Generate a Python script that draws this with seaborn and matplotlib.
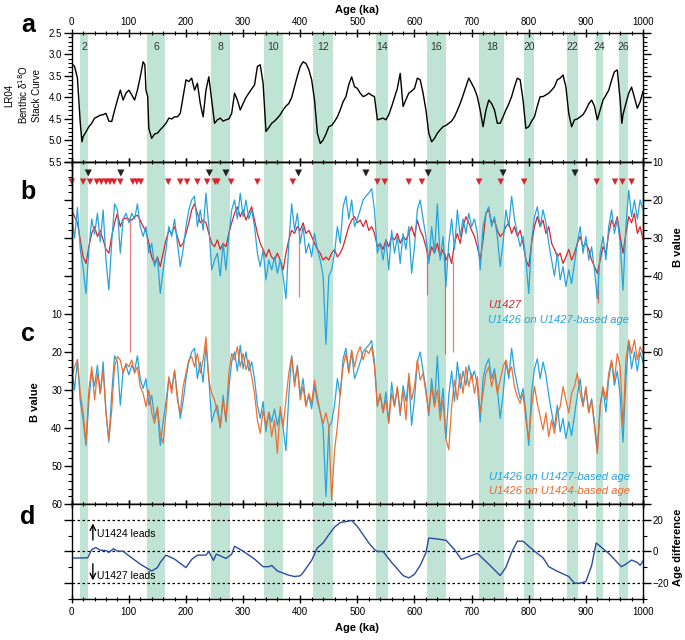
import numpy as np
import pandas as pd
import matplotlib
matplotlib.use('Agg')
import matplotlib.pyplot as plt
import seaborn as sns
from matplotlib.ticker import MultipleLocator, FuncFormatter

# ---- data ----
# glacial stages (shaded bands)
band_start = [14, 132, 244, 337, 423, 533, 622, 713, 792, 867, 918, 958]
band_end = [29, 163, 277, 369, 457, 553, 655, 757, 810, 887, 930, 974]
band_label = ['2', '6', '8', '10', '12', '14', '16', '18', '20', '22', '24', '26']

# LR04 benthic d18O stack
lr04_age = [0, 5, 10, 15, 18, 20, 25, 30, 35, 40, 45, 50, 55, 60, 65, 70, 75, 80, 85, 90, 95,
            100, 105, 110, 115, 120, 125, 128, 130, 133, 135, 140, 145, 150, 155, 160, 165, 170, 175, 180, 185, 190, 195,
            200, 205, 210, 215, 220, 225, 230, 235, 240, 245, 250, 255, 260, 265, 270, 275, 280, 285, 290, 295,
            300, 305, 310, 315, 320, 325, 330, 335, 340, 345, 350, 355, 360, 365, 370, 375, 380, 385, 390, 395,
            400, 405, 410, 415, 420, 425, 430, 435, 440, 445, 450, 455, 460, 465, 470, 475, 480, 485, 490, 495,
            500, 505, 510, 515, 520, 525, 530, 535, 540, 545, 550, 555, 560, 565, 570, 575, 580, 585, 590, 595,
            600, 605, 610, 615, 620, 625, 630, 635, 640, 645, 650, 655, 660, 665, 670, 675, 680, 685, 690, 695,
            700, 705, 710, 715, 720, 725, 730, 735, 740, 745, 750, 755, 760, 765, 770, 775, 780, 785, 790, 795,
            800, 805, 810, 815, 820, 825, 830, 835, 840, 845, 850, 855, 860, 865, 870, 875, 880, 885, 890, 895,
            900, 905, 910, 915, 920, 925, 930, 935, 940, 945, 950, 955, 960, 963, 965, 970, 975, 980, 985, 990, 995, 1000]
lr04_d18o = [3.21, 3.28, 3.55, 4.6, 5.03, 4.91, 4.8, 4.68, 4.6, 4.48, 4.45, 4.41, 4.4, 4.37, 4.55, 4.56, 4.3, 4.06, 3.83, 4.06, 3.9,
             3.83, 3.94, 4.06, 3.83, 3.52, 3.17, 3.24, 3.83, 3.98, 4.72, 4.95, 4.85, 4.83, 4.75, 4.68, 4.6, 4.48, 4.5, 4.45, 4.45, 4.37, 3.98,
             3.59, 3.63, 3.55, 3.83, 3.67, 4.14, 4.45, 3.83, 3.52, 4.06, 4.6, 4.52, 4.48, 4.55, 4.52, 4.5, 4.37, 3.9, 4.06, 4.29,
             4.14, 4.0, 3.9, 3.8, 3.71, 3.28, 3.24, 3.67, 4.79, 4.7, 4.6, 4.55, 4.48, 4.4, 4.29, 4.2, 4.14, 4.0, 3.75, 3.5,
             3.28, 3.17, 3.21, 3.35, 3.59, 4.06, 4.83, 5.07, 4.99, 4.85, 4.68, 4.65, 4.56, 4.45, 4.29, 4.1, 3.98, 3.7, 3.52, 3.75,
             3.79, 3.9, 3.98, 3.95, 3.9, 3.95, 3.98, 4.52, 4.5, 4.48, 4.52, 4.4, 4.21, 4.0, 3.79, 3.44, 4.21, 4.05, 3.9, 3.85,
             3.79, 3.55, 3.59, 3.9, 4.29, 4.83, 5.03, 4.95, 4.83, 4.75, 4.68, 4.65, 4.6, 4.55, 4.45, 4.3, 4.14, 3.95, 3.75, 3.55,
             3.67, 3.8, 3.98, 4.3, 4.68, 4.3, 4.06, 4.14, 4.29, 4.6, 4.6, 4.45, 4.29, 4.15, 3.98, 3.75, 3.55, 3.59, 4.06, 4.72,
             4.68, 4.55, 4.45, 4.2, 3.98, 3.98, 3.94, 3.9, 3.83, 3.75, 3.59, 3.55, 3.48, 3.75, 4.37, 4.68, 4.52, 4.5, 4.45, 4.4,
             4.29, 4.15, 4.06, 4.2, 4.52, 4.29, 4.06, 3.95, 3.83, 3.6, 3.40, 3.36, 4.06, 4.6, 4.4, 4.14, 3.9, 3.76, 4.0, 4.25, 4.1, 3.86]

# B value records, sampled every 5 ka
b_age = list(range(0, 1001, 5))
u1427_b = [22.6, 24.4, 26, 30.5, 35, 36.7, 32.3, 28.8, 27, 29.6,
           28, 30.5, 33, 34, 29.6, 26, 23.5, 27, 25, 24.8,
           25, 25.3, 24.4, 24, 25.3, 27, 28.3, 31.4, 35, 36.7,
           35, 37.5, 34, 30.5, 28, 28.8, 27, 29.6, 32.3, 31.4,
           28.8, 26, 22.6, 21, 23.5, 26, 25.3, 26, 28.8, 31.4,
           32.3, 30.5, 33, 31.4, 32.3, 28.8, 26, 23.5, 21.8, 24.4,
           22.6, 25.3, 23.5, 21.8, 25.3, 28.8, 31.4, 33, 35, 33,
           35, 35.8, 34, 35.8, 38.4, 34, 30.5, 28, 28.8, 27,
           28, 26, 28.8, 28, 29.6, 31.4, 33, 34, 35.8, 35,
           35.8, 34, 33, 35, 34, 32.3, 29.6, 27, 25.3, 24.4,
           26, 25.3, 27, 25.3, 28, 27, 28.8, 32.3, 31.4, 33,
           30.5, 32.3, 29.6, 30.5, 28.8, 31.4, 29.6, 30.5, 28.8, 27,
           29.6, 25.3, 28, 29.6, 32.3, 35.8, 32.3, 34, 31.4, 35,
           33, 35.8, 34, 36.7, 31.4, 28.8, 31.4, 27, 24.4, 26,
           28, 29.6, 32.3, 35.8, 30.5, 23.5, 22.6, 26, 25.3, 28,
           29.6, 28.8, 27, 26, 28.8, 27, 29.6, 28, 31.4, 35.8,
           37.5, 31.4, 27, 24.4, 27, 25.3, 28.8, 27, 31.4, 33,
           35, 34, 36.7, 35, 33, 35.8, 34, 31.4, 29.6, 32.3,
           31.4, 33, 35.8, 37.5, 39.3, 35.8, 32.3, 34, 28.8, 25.3,
           27, 24.4, 29.6, 34, 28.8, 24.4, 26, 23.5, 28.8, 27,
           30.5]
u1426_b = [24, 30, 22, 33, 38, 44.6, 33, 25, 29, 23.5,
           31, 22.6, 36, 43.7, 31, 21, 22.6, 34, 25, 23.5,
           26, 23.5, 25, 21, 27, 29.6, 27, 34, 31.4, 37.5,
           35, 44.6, 38.4, 33, 27, 29.6, 25, 31.4, 37.5, 33,
           27, 22.6, 20, 19, 27, 22.6, 28, 18.2, 27, 38.4,
           35.8, 34, 40, 31.4, 38.4, 29.6, 22.6, 20, 25, 18.2,
           24.4, 20, 25, 22.6, 27, 34, 37.5, 33, 41, 35.8,
           38.4, 35, 39.3, 35.8, 40, 46, 31.4, 21, 28, 23.5,
           31.4, 27, 34, 31.4, 35, 28.8, 33, 35.8, 40, 58,
           40, 38.4, 34, 27, 31.4, 21.8, 19, 25, 20, 27,
           25, 22.6, 20, 19, 18.2, 17, 22.6, 34, 31.4, 35.8,
           30.5, 38.4, 28, 34, 29.6, 36.7, 28.8, 33, 27, 39.3,
           32.3, 22.6, 20, 25, 29.6, 36.7, 27, 34, 21, 35.8,
           29.6, 42.8, 31.4, 25, 33, 22.6, 29.6, 25, 28.8, 23.5,
           27, 25, 28.8, 38.4, 27, 23.5, 21.8, 27, 24.4, 29.6,
           37.5, 31.4, 22.6, 27, 19, 25, 28.8, 32.3, 29.6, 35.8,
           44.6, 30.5, 24.4, 21.8, 27, 22.6, 26, 31.4, 35.8, 40,
           34, 41, 37.5, 42.8, 38.4, 42, 36.7, 31.4, 27, 34,
           29.6, 35.8, 32.3, 38.4, 46, 34, 29.6, 35.8, 27, 22.6,
           28.8, 25, 31.4, 43.7, 27, 17.4, 24.4, 20, 25, 20,
           22.6]
u1426_on_u1424 = [26.5, 23.9, 22.1, 30.9, 36, 44, 30, 23.9, 32.6, 25.6,
                  30.9, 24.7, 36, 43, 35.3, 23.9, 21.2, 22.1, 25.6, 23,
                  23.9, 22.1, 25.6, 23.9, 29.1, 30.9, 34.4, 30, 36, 38.8,
                  34.4, 41.4, 44, 36, 26.5, 30.9, 24.7, 32.6, 36, 29.1,
                  25.6, 22.1, 21.2, 23.9, 20.4, 25.6, 22.1, 16, 27.4, 30.9,
                  32.6, 36, 39.6, 32.6, 37.9, 25.6, 20.4, 22.1, 18.6, 23.9,
                  20.4, 24.7, 22.1, 26.5, 30.9, 37.9, 41.4, 35.3, 39.6, 36,
                  42.3, 37.9, 46.7, 34.4, 39.6, 32.6, 25.6, 21.2, 29.1, 23.9,
                  32.6, 29.1, 34.4, 30.9, 33.5, 27.4, 31.8, 36, 38.8, 36,
                  39.6, 59, 46, 39.6, 30.9, 23.9, 20.4, 25.6, 19.5, 23.9,
                  20.4, 18.6, 22.1, 19.5, 20.4, 18.6, 23.9, 34.4, 30.9, 36,
                  32.6, 38.8, 30.9, 34.4, 29.1, 36, 30, 37.9, 25.6, 32.6,
                  29.1, 22.1, 27.4, 25.6, 30.9, 36, 29.1, 34.4, 30, 37.9,
                  32.6, 43, 45.7, 34.4, 27.4, 32.6, 25.6, 30.9, 23.9, 29.1,
                  25.6, 30.9, 26.5, 36, 30.9, 25.6, 23.9, 29.1, 25.6, 30.9,
                  27.4, 23.9, 22.1, 25.6, 23.9, 29.1, 31.8, 33.5, 30.9, 37.9,
                  43, 34.4, 29.1, 33.5, 37, 40.5, 36, 42.3, 37.9, 41.4,
                  36, 34.4, 29.1, 32.6, 36, 30.9, 29.1, 25.6, 30.9, 34.4,
                  29.1, 36, 32.6, 39.6, 46.7, 34.4, 29.1, 32.6, 25.6, 22.1,
                  27.4, 20.4, 23.9, 39.6, 22.1, 16.8, 20.4, 16.8, 22.1, 18.6,
                  20.4]

# thin spikes in the U1427 record
spike_age = [102, 398, 622, 653, 667, 921]
spike_base = [25, 27.5, 33, 34, 36, 39]
spike_top = [60, 45.5, 45, 60.5, 60, 47]

# tie points (triangles)
black_tri_age = [29, 86, 241, 270, 397, 515, 624, 755, 881]
red_tri_age = [0, 20, 32, 44, 52, 60, 67, 74, 85, 107, 114, 121, 169, 190, 202, 220, 237,
               251, 255, 279, 325, 387, 535, 548, 590, 613, 713, 751, 792, 919, 951, 964, 980]

# age difference (panel d)
d_age = [0, 28, 35, 42, 50, 60, 65, 73, 80, 90, 100, 120, 140, 150, 155, 165, 180, 200, 210, 220,
         235, 240, 248, 253, 260, 270, 280, 285, 300, 320, 335, 345, 350, 360, 380, 390, 400, 405, 420, 430,
         440, 450, 460, 470, 480, 490, 500, 510, 520, 530, 535, 545, 560, 570, 580, 590, 600, 610, 620, 625,
         640, 655, 670, 682, 700, 710, 730, 750, 760, 770, 780, 790, 800, 810, 825, 835, 850, 870, 880, 890,
         900, 910, 918, 925, 940, 950, 962, 970, 980, 990, 995, 1000]
d_val = [-4.2, -4, 1.2, 2.5, 0.8, 0.6, -0.6, 1.7, 0.2, 0.2, -2.7, -8, -12.3, -10.2, -6.9, -2.3, -4.8, -10.2, -5, -2.3,
         -2.3, 0, -5.6, -1.7, -2.7, -4.4, -1.7, 3.3, 0.2, -4.8, -9.6, -9.6, -8.8, -12.3, -15, -15.8, -15.4, -13.3, -5.6, 2.3,
         5.4, 10.6, 15.4, 18.3, 18.9, 19.6, 15.8, 10.6, 5.4, 1.2, 0, 0, -6.9, -11, -15.2, -16.7, -14.4, -8.8, -0.8, 8.5,
         7.9, 7.1, 1.2, -5, -2.5, -1.2, -8, -15.2, -10, -0.6, 6.5, 6.5, 3.3, 0.2, -4, -9.6, -12.5, -15.8, -20, -20,
         -19, -9, 5.4, 3.3, -1.2, -5, -9.6, -8, -5.4, -6.9, -8.75, -6]

# ---- style ----
sns.set_style('ticks', {'axes.edgecolor': 'black', 'xtick.color': 'black', 'ytick.color': 'black',
                        'text.color': 'black', 'axes.labelcolor': 'black'})
plt.rcParams['font.family'] = ['Liberation Sans', 'DejaVu Sans']

band_color = '#bfe4d5'
red = '#d9252c'
blue = '#27a4dd'
orange = '#ec6a2c'
navy = '#2a4d9c'

df_b = pd.DataFrame({'age': b_age, 'U1427': u1427_b, 'U1426': u1426_b, 'U1426_U1424': u1426_on_u1424})

fig = plt.figure(figsize=(6.85, 6.4), dpi=100)
L, W = 0.1047, 0.834
ax_a = fig.add_axes([L, 0.7469, W, 0.2016])
ax_c = fig.add_axes([L, 0.2125, W, 0.5344])
ax_b = ax_c.twinx()
ax_d = fig.add_axes([L, 0.0641, W, 0.1484])

for ax in (ax_a, ax_c, ax_d):
    for s, e in zip(band_start, band_end):
        ax.axvspan(s, e, color=band_color, lw=0, zorder=0)
    ax.set_xlim(0, 1000)
    ax.xaxis.set_major_locator(MultipleLocator(100))
    ax.xaxis.set_minor_locator(MultipleLocator(20))
    for sp in ax.spines.values():
        sp.set_linewidth(1.0)
    ax.tick_params(which='major', length=6, width=1, labelsize=7)
    ax.tick_params(which='minor', length=3, width=0.8)
ax_b.set_xlim(0, 1000)
for sp in ax_b.spines.values():
    sp.set_linewidth(1.0)

# panel a
sns.lineplot(x=lr04_age, y=lr04_d18o, ax=ax_a, color='black', lw=1.0, estimator=None)
ax_a.set_ylim(5.5, 2.5)
ax_a.yaxis.set_major_locator(MultipleLocator(0.5))
ax_a.yaxis.set_minor_locator(MultipleLocator(0.1))
ax_a.yaxis.set_major_formatter(FuncFormatter(lambda v, p: f'{v:.1f}'))
ax_a.tick_params(axis='x', which='both', top=True, bottom=True, labeltop=True, labelbottom=False,
                 direction='inout', pad=1)
ax_a.tick_params(axis='y', which='both', left=True, right=True, labelright=False, direction='out', pad=1)
ax_a.set_xlabel('Age (ka)', fontsize=8, fontweight='bold', labelpad=3)
ax_a.xaxis.set_label_position('top')
ax_a.set_ylabel('')
for s, e, lab in zip(band_start, band_end, band_label):
    ax_a.text((s + e) / 2, 2.82, lab, ha='center', va='center', fontsize=7.5, color='#333333')

# panel c (left axis)
sns.lineplot(data=df_b, x='age', y='U1426', ax=ax_c, color=blue, lw=0.9, estimator=None)
sns.lineplot(data=df_b, x='age', y='U1426_U1424', ax=ax_c, color=orange, lw=0.9, estimator=None, alpha=0.95)
ax_c.set_ylim(60, -30)
ax_c.yaxis.set_major_locator(MultipleLocator(10))
ax_c.yaxis.set_minor_locator(MultipleLocator(2))
ax_c.yaxis.set_major_formatter(FuncFormatter(lambda v, p: f'{v:g}' if 10 <= v <= 60 else ''))
ax_c.tick_params(axis='x', which='both', top=True, bottom=True, labelbottom=False, direction='inout')
ax_c.tick_params(axis='y', which='both', left=True, direction='out', pad=1)
ax_c.set_xlabel('')
ax_c.set_ylabel('')

# panel b (right axis)
sns.lineplot(data=df_b, x='age', y='U1427', ax=ax_b, color=red, lw=0.9, estimator=None)
ax_b.vlines(spike_age, spike_base, spike_top, color=red, lw=0.9, alpha=0.6)
sns.lineplot(data=df_b, x='age', y='U1426', ax=ax_b, color=blue, lw=0.9, estimator=None)
sns.scatterplot(x=black_tri_age, y=[12.9] * len(black_tri_age), ax=ax_b, marker='v', s=26,
                color='#222222', edgecolor='none', clip_on=False)
sns.scatterplot(x=red_tri_age, y=[15.2] * len(red_tri_age), ax=ax_b, marker='v', s=22,
                color=red, edgecolor='none', clip_on=False)
ax_b.set_ylim(100, 10)
ax_b.yaxis.set_major_locator(MultipleLocator(10))
ax_b.yaxis.set_minor_locator(MultipleLocator(2))
ax_b.yaxis.set_major_formatter(FuncFormatter(lambda v, p: f'{v:g}' if 10 <= v <= 60 else ''))
ax_b.tick_params(axis='y', which='major', length=6, width=1, labelsize=7, direction='out', pad=1)
ax_b.tick_params(axis='y', which='minor', length=3, width=0.8, direction='out')
ax_b.set_xlabel('')
ax_b.set_ylabel('')

ax_b.text(729, 47.6, 'U1427', color=red, fontsize=8, style='italic', va='center')
ax_b.text(729, 51.7, 'U1426 on U1427-based age', color=blue, fontsize=8, style='italic', va='center')
ax_c.text(731, 52.8, 'U1426 on U1427-based age', color=blue, fontsize=8, style='italic', va='center')
ax_c.text(731, 56.6, 'U1426 on U1424-based age', color=orange, fontsize=8, style='italic', va='center')

# panel d
for lev in (20, 0, -20):
    ax_d.axhline(lev, color='black', lw=0.9, ls=(0, (2, 2)), zorder=1)
sns.lineplot(x=d_age, y=d_val, ax=ax_d, color=navy, lw=1.0, estimator=None)
ax_d.set_ylim(-30, 30)
ax_d.yaxis.set_major_locator(MultipleLocator(20))
ax_d.yaxis.set_minor_locator(MultipleLocator(10))
ax_d.tick_params(axis='y', which='both', left=True, right=True, labelleft=False, labelright=True,
                 direction='out', pad=1)
ax_d.tick_params(axis='x', which='both', top=True, bottom=True, direction='in', pad=3)
ax_d.tick_params(axis='x', which='both', top=True, direction='inout')
ax_d.set_xlabel('Age (ka)', fontsize=8, fontweight='bold', labelpad=4)
ax_d.set_ylabel('')
ax_d.annotate('', xy=(37, 19.5), xytext=(37, 5.5),
              arrowprops=dict(arrowstyle='->', color='black', lw=1))
ax_d.annotate('', xy=(37, -20), xytext=(37, -6),
              arrowprops=dict(arrowstyle='->', color='black', lw=1))
ax_d.text(44, 11.2, 'U1424 leads', fontsize=7.5, va='center')
ax_d.text(44, -15.6, 'U1427 leads', fontsize=7.5, va='center')

# axis titles and panel letters
fig.text(23 / 685, 1 - 95 / 640, 'LR04\nBenthic \u03b4$^{18}$O\nStack Curve', rotation=90,
         ha='center', va='center', fontsize=7, linespacing=1.2)
fig.text(35 / 685, 1 - 402 / 640, 'B value', rotation=90, ha='center', va='center', fontsize=8, fontweight='bold')
fig.text(678 / 685, 1 - 247 / 640, 'B value', rotation=90, ha='center', va='center', fontsize=8, fontweight='bold')
fig.text(678 / 685, 1 - 547 / 640, 'Age difference', rotation=90, ha='center', va='center', fontsize=8,
         fontweight='bold')
for lab, y in zip(['a', 'b', 'c', 'd'], [25, 192, 334, 517]):
    fig.text(28 / 685, 1 - y / 640, lab, ha='center', va='center', fontsize=18, fontweight='bold')

fig.savefig('out.png', dpi=100)
